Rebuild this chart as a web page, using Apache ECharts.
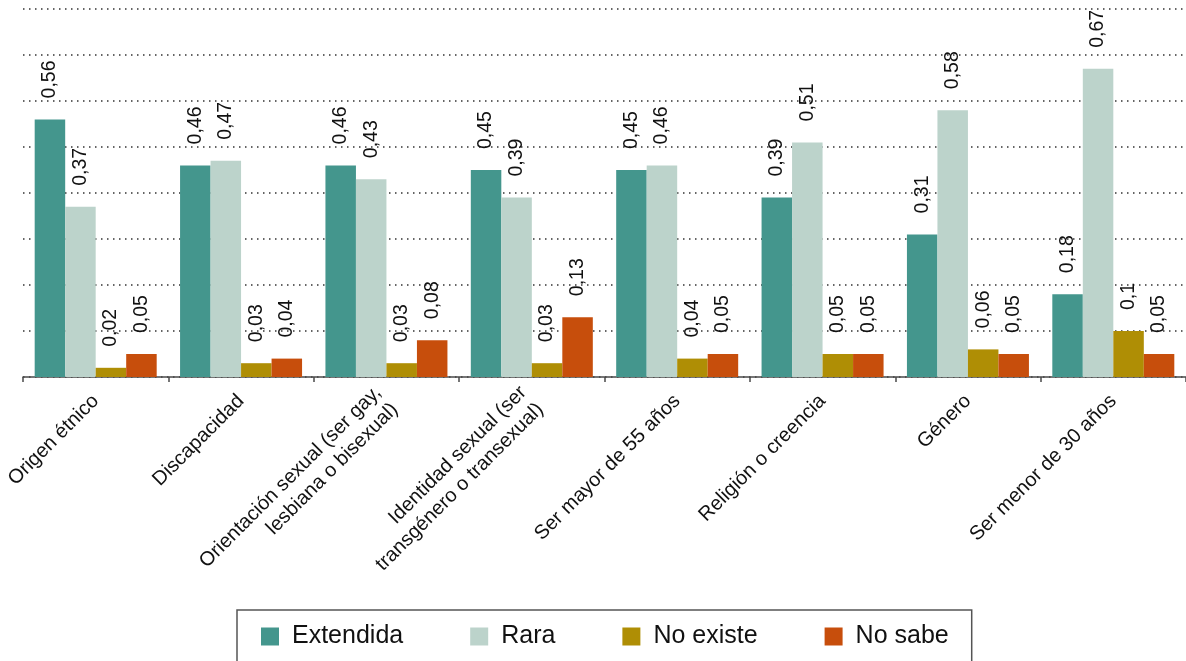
<!DOCTYPE html>
<html>
<head>
<meta charset="utf-8">
<script src="https://cdn.jsdelivr.net/npm/echarts@6/dist/echarts.min.js"></script>
<style>
  html, body { margin: 0; padding: 0; background: #fff; }
  #chart { width: 1186px; height: 661px; }
</style>
</head>
<body>
<div id="chart"></div>
<script>
const categories = [
  'Origen étnico',
  'Discapacidad',
  'Orientación sexual (ser gay,\nlesbiana o bisexual)',
  'Identidad sexual (ser\ntransgénero o transexual)',
  'Ser mayor de 55 años',
  'Religión o creencia',
  'Género',
  'Ser menor de 30 años'
];
const seriesNames = ['Extendida', 'Rara', 'No existe', 'No sabe'];
const extendida = [0.56, 0.46, 0.46, 0.45, 0.45, 0.39, 0.31, 0.18];
const rara      = [0.37, 0.47, 0.43, 0.39, 0.46, 0.51, 0.58, 0.67];
const noExiste  = [0.02, 0.03, 0.03, 0.03, 0.04, 0.05, 0.06, 0.1];
const noSabe    = [0.05, 0.04, 0.08, 0.13, 0.05, 0.05, 0.05, 0.05];
const colors = ['#44968D', '#BCD3CB', '#AF8E05', '#C74E0C'];

const FONT = '"Liberation Sans", Arial, Helvetica, sans-serif';
const seriesData = [extendida, rara, noExiste, noSabe];

const chart = echarts.init(document.getElementById('chart'), null, { renderer: 'canvas' });
chart.setOption({
  animation: false,
  backgroundColor: '#fff',
  textStyle: { fontFamily: FONT },
  grid: { left: 23, top: 9, width: 1166, height: 368, containLabel: false },
  legend: {
    data: seriesNames,
    left: 237,
    top: 610,
    orient: 'horizontal',
    icon: 'rect',
    itemWidth: 18,
    itemHeight: 18,
    itemGap: 67,
    borderColor: '#555',
    borderWidth: 1.5,
    borderRadius: 0,
    padding: [14, 23, 30, 24],
    textStyle: { fontSize: 25, color: '#111', fontFamily: FONT, padding: [0, 0, 0, 8] }
  },
  xAxis: {
    type: 'category',
    data: categories,
    axisLine: { lineStyle: { color: '#4a4a4a', width: 1.5 } },
    axisTick: { show: true, length: 5, lineStyle: { color: '#4a4a4a', width: 1.5 } },
    axisLabel: { rotate: 45, interval: 0, fontSize: 20, lineHeight: 24, color: '#111', margin: 21, fontFamily: FONT },
    splitLine: { show: false }
  },
  yAxis: {
    type: 'value',
    min: 0,
    max: 0.8,
    interval: 0.1,
    axisLabel: { show: false },
    axisLine: { show: false },
    axisTick: { show: false },
    splitLine: { show: true, lineStyle: { color: '#333', width: 1.5, type: [1.5, 4.5] } }
  },
  series: seriesNames.map((name, i) => ({
    name: name,
    type: 'bar',
    data: seriesData[i],
    barWidth: 30.5,
    barGap: '0%',
    itemStyle: { color: colors[i] },
    label: {
      show: true,
      position: 'top',
      rotate: 90,
      align: 'left',
      verticalAlign: 'middle',
      distance: 19,
      offset: [2, 0],
      fontSize: 19.5,
      color: '#111',
      fontFamily: FONT,
      formatter: p => String(p.value).replace('.', ',')
    }
  }))
});
</script>
</body>
</html>
